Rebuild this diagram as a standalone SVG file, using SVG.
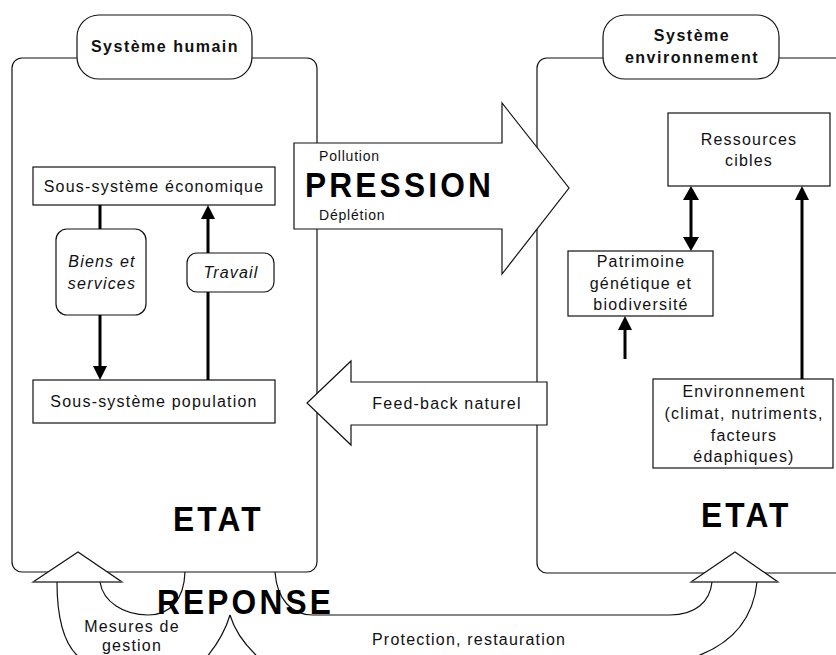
<svg xmlns="http://www.w3.org/2000/svg" width="836" height="655" viewBox="0 0 836 655">
<style>
.t{font-family:"Liberation Sans",Arial,sans-serif;font-size:16px;letter-spacing:1.2px;fill:#111}
.c{text-anchor:middle}
.it{font-style:italic}
.hd{font-family:"Liberation Sans",Arial,sans-serif;font-size:16px;font-weight:bold;letter-spacing:1.5px;fill:#111;text-anchor:middle}
.big{font-family:"Liberation Sans",Arial,sans-serif;font-size:36px;font-weight:bold;letter-spacing:3.6px;fill:#000}
.box{fill:#fff;stroke:#111;stroke-width:1.2}
.ln{fill:none;stroke:#111;stroke-width:1.2}
.th{stroke:#000;stroke-width:3;fill:none}
.hd2{fill:#000}
</style>
<g id="systeme-humain">
<rect class="box" x="12" y="58" width="305" height="514" rx="10"/>
<rect class="box" x="77" y="15" width="175" height="64" rx="22"/>
<text class="hd" x="165" y="52">Système humain</text>
</g>
<g id="systeme-environnement">
<rect class="box" x="537" y="58" width="330" height="515" rx="10"/>
<rect class="box" x="603" y="15" width="176" height="64" rx="22"/>
<text class="hd" x="692" y="41">Système</text>
<text class="hd" x="692" y="63">environnement</text>
</g>
<g id="eco">
<rect class="box" x="33" y="167" width="242" height="38"/>
<text class="t c" x="154" y="192">Sous-système économique</text>
</g>
<g id="pop">
<rect class="box" x="33" y="380" width="242" height="43"/>
<text class="t c" x="154" y="407">Sous-système population</text>
</g>
<g id="biens">
<rect class="box" x="56" y="229" width="90" height="86" rx="11"/>
<text class="t c it" x="102" y="267">Biens et</text>
<text class="t c it" x="102" y="289">services</text>
</g>
<g id="travail">
<rect class="box" x="187" y="253" width="87" height="39" rx="10"/>
<text class="t c it" x="231" y="278">Travail</text>
</g>
<g id="ressources">
<rect class="box" x="668" y="113" width="162" height="73"/>
<text class="t c" x="749" y="145">Ressources</text>
<text class="t c" x="749" y="166">cibles</text>
</g>
<g id="patrimoine">
<rect class="box" x="568" y="251" width="145" height="65"/>
<text class="t c" x="641" y="267">Patrimoine</text>
<text class="t c" x="641" y="289">génétique et</text>
<text class="t c" x="641" y="310">biodiversité</text>
</g>
<g id="environnement">
<rect class="box" x="653" y="379" width="180" height="89"/>
<text class="t c" x="744" y="397">Environnement</text>
<text class="t c" x="744" y="419">(climat, nutriments,</text>
<text class="t c" x="744" y="441">facteurs</text>
<text class="t c" x="744" y="462">édaphiques)</text>
</g>
<g id="pression">
<polygon class="box" points="294,143 502,143 502,103 569,188 502,274 502,229 294,229"/>
<text class="t" x="319" y="161" style="font-size:14px;letter-spacing:0.8px">Pollution</text>
<text class="big" transform="scale(0.88,1)" x="346.6" y="197">PRESSION</text>
<text class="t" x="319" y="220" style="font-size:14px;letter-spacing:0.8px">Déplétion</text>
</g>
<g id="feedback">
<polygon class="box" points="547,382 351,382 351,361 307,403 351,445 351,425 547,425"/>
<text class="t c" x="447" y="409">Feed-back naturel</text>
</g>
<g id="reponse">
<polygon fill="#fff" stroke="#111" stroke-width="1.2" points="33,582 78,552 122,582"/>
<line x1="33" y1="582" x2="122" y2="582" stroke="#666" stroke-width="1.6"/>
<polygon fill="#fff" stroke="#111" stroke-width="1.2" points="691,582 735,552 778,582"/>
<line x1="691" y1="582" x2="778" y2="582" stroke="#666" stroke-width="1.6"/>
<path class="ln" d="M275 572 C277 600 292 615 313 615 L670 615 C695 615 710 602 712 582"/>
<path class="ln" d="M757 582 C753 622 728 646 692 658"/>
<path class="ln" d="M230 615 C235 632 246 646 259 658"/>
<path class="ln" d="M185 572 C184 600 170 615 148 615 C124 615 103 602 100 582"/>
<path class="ln" d="M57 582 C57 620 64 645 80 658"/>
<path class="ln" d="M230 615 C225 632 216 646 206 658"/>
<text class="big" transform="scale(0.88,1)" x="178.4" y="614">REPONSE</text>
<text class="t c" x="132" y="632">Mesures de</text>
<text class="t c" x="132" y="651">gestion</text>
<text class="t" x="372" y="645">Protection, restauration</text>
</g>
<g id="etat">
<text class="big" transform="scale(0.88,1)" x="196.6" y="531">ETAT</text>
<text class="big" transform="scale(0.88,1)" x="796.6" y="527">ETAT</text>
</g>
<g id="connectors">
<line class="th" x1="100" y1="205" x2="100" y2="229"/>
<line class="th" x1="100" y1="315" x2="100" y2="367"/>
<polygon class="hd2" points="93,366 107,366 100,380"/>
<line class="th" x1="208" y1="380" x2="208" y2="292"/>
<line class="th" x1="208" y1="253" x2="208" y2="218"/>
<polygon class="hd2" points="201,219 215,219 208,205"/>
<line class="th" x1="691" y1="199" x2="691" y2="238"/>
<polygon class="hd2" points="683,200 699,200 691,186"/>
<polygon class="hd2" points="683,237 699,237 691,251"/>
<line class="th" x1="625" y1="359" x2="625" y2="329"/>
<polygon class="hd2" points="618,330 632,330 625,316"/>
<line class="th" x1="802" y1="379" x2="802" y2="199"/>
<polygon class="hd2" points="795,200 809,200 802,186"/>
</g>
</svg>
